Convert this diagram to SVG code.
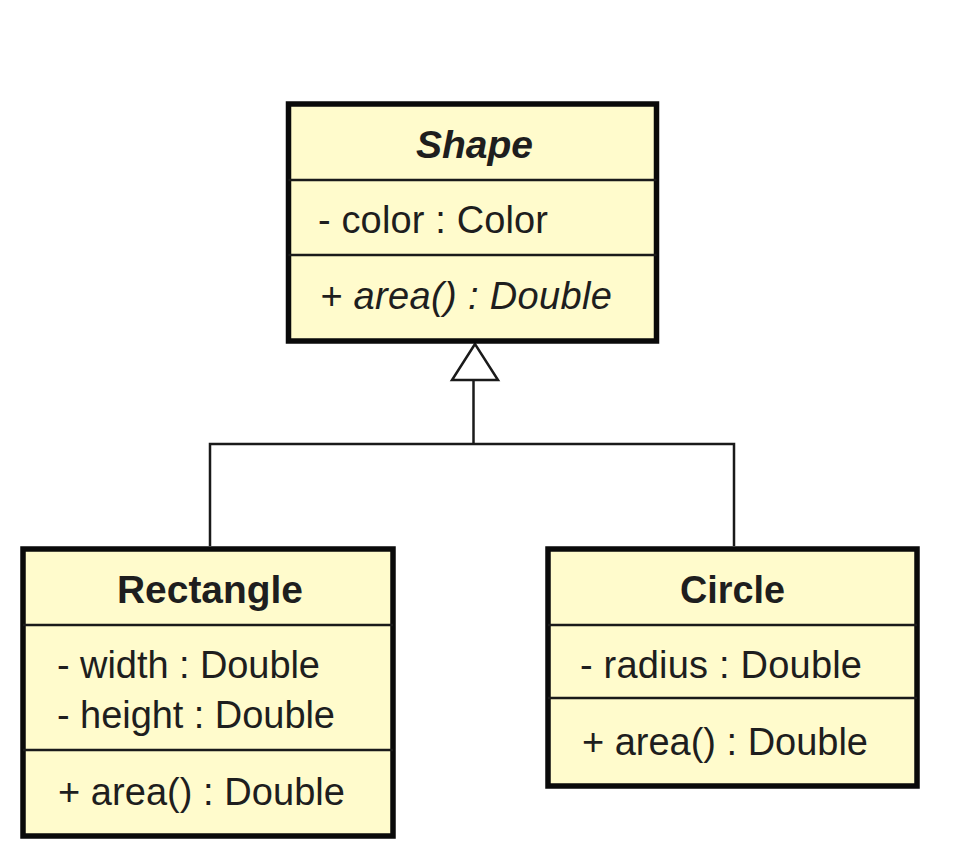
<svg xmlns="http://www.w3.org/2000/svg" width="978" height="862" viewBox="0 0 978 862">
<style>
.box{fill:#FFFBCC;stroke:#0a0a0a;stroke-width:5.5}
.div{stroke:#1a1a1a;stroke-width:2.5}
.t{font-family:"Liberation Sans",Arial,sans-serif;font-size:38px;fill:#1e1e1e}
.title{font-weight:bold;font-size:39px}
.it{font-style:italic}
.con{fill:none;stroke:#1a1a1a;stroke-width:2.5}
</style>
<rect width="978" height="862" fill="#ffffff"/>
<g id="connectors">
<polyline class="con" points="210,546 210,444 734,444 734,546"/>
<line class="con" x1="473.5" y1="444" x2="473.5" y2="380"/>
<polygon points="475,344 452,380 498,380" fill="#ffffff" stroke="#1a1a1a" stroke-width="2.5" stroke-linejoin="miter"/>
</g>
<g id="shape">
<rect class="box" x="288.5" y="104" width="368" height="237"/>
<line class="div" x1="288.5" y1="180" x2="656.5" y2="180"/>
<line class="div" x1="288.5" y1="255" x2="656.5" y2="255"/>
<text class="t title it" x="416" y="158" textLength="117" lengthAdjust="spacingAndGlyphs">Shape</text>
<text class="t" x="318" y="233" textLength="230" lengthAdjust="spacing">- color : Color</text>
<text class="t it" x="320" y="309" textLength="292" lengthAdjust="spacing">+ area() : Double</text>
</g>
<g id="rectangle">
<rect class="box" x="23" y="549" width="370" height="287"/>
<line class="div" x1="23" y1="625" x2="393" y2="625"/>
<line class="div" x1="23" y1="750" x2="393" y2="750"/>
<text class="t title" x="117" y="603" textLength="186" lengthAdjust="spacingAndGlyphs">Rectangle</text>
<text class="t" x="57" y="678" textLength="263" lengthAdjust="spacing">- width : Double</text>
<text class="t" x="57" y="728" textLength="278" lengthAdjust="spacing">- height : Double</text>
<text class="t" x="58" y="805" textLength="287" lengthAdjust="spacing">+ area() : Double</text>
</g>
<g id="circle">
<rect class="box" x="548" y="549" width="369" height="237"/>
<line class="div" x1="548" y1="625" x2="917" y2="625"/>
<line class="div" x1="548" y1="698" x2="917" y2="698"/>
<text class="t title" x="680" y="603" textLength="105" lengthAdjust="spacingAndGlyphs">Circle</text>
<text class="t" x="580" y="678" textLength="282" lengthAdjust="spacing">- radius : Double</text>
<text class="t" x="582" y="755" textLength="286" lengthAdjust="spacing">+ area() : Double</text>
</g>
</svg>
